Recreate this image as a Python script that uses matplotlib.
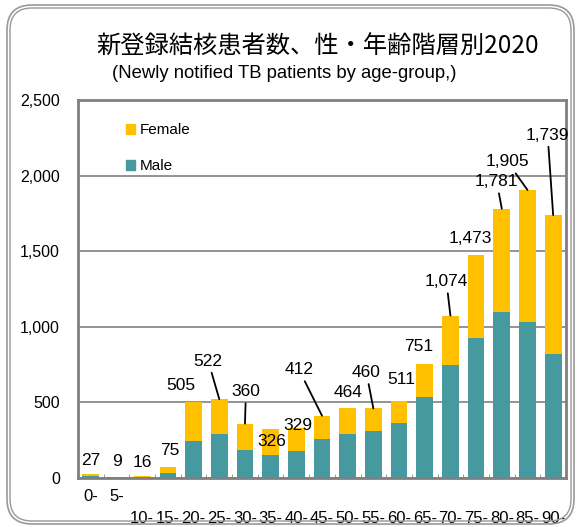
import matplotlib
matplotlib.use('Agg')
import matplotlib.pyplot as plt
from matplotlib.patches import FancyBboxPatch, Patch
import numpy as np

age_groups = ['0-', '5-', '10-', '15-', '20-', '25-', '30-', '35-', '40-', '45-',
              '50-', '55-', '60-', '65-', '70-', '75-', '80-', '85-', '90-']
male = [10, 4, 6, 32, 247, 293, 187, 149, 176, 260, 291, 313, 362, 537, 749, 923, 1099, 1033, 819]
female = [17, 5, 10, 43, 258, 229, 173, 177, 153, 152, 173, 147, 149, 214, 325, 550, 682, 872, 920]

title = '新登録結核患者数、性・年齢階層別2020'
subtitle = '(Newly notified TB patients by age-group,)'

# label offsets from bar top (pixels) and whether a leader line is drawn
label_offsets = [(0, 13), (0, 15), (0, 13), (2, 16), (-13, 16), (-11, 38), (1, 32),
                 (1, -13), (1.5, 3), (-23, 46), (0, 15), (-7, 36), (2.5, 21),
                 (-6, 18), (-4, 34), (-5.5, 17), (-5, 27), (-20, 28), (-5.5, 80)]
leader = [False, False, False, False, False, True, True, False, False, True,
          False, True, False, False, True, False, True, True, True]

plt.rcParams['font.family'] = ['Liberation Sans', 'Noto Sans CJK JP', 'DejaVu Sans']

teal = '#4799A0'
yellow = '#FFC000'

fig = plt.figure(figsize=(5.77, 5.27), dpi=100)
ax = fig.add_axes([78 / 577, 49 / 527, 488 / 577, 378 / 527])

x = np.arange(len(age_groups))
total = np.array(male) + np.array(female)
ax.bar(x, male, width=0.65, color=teal, zorder=3)
ax.bar(x, female, width=0.65, bottom=male, color=yellow, zorder=3)

ax.set_xlim(-0.5, len(age_groups) - 0.5)
ax.set_ylim(0, 2500)
ax.set_yticks(range(0, 2501, 500))
ax.set_yticklabels([f'{v:,}' for v in range(0, 2501, 500)], fontsize=11.5)
ax.yaxis.grid(True, color='#8a8a8a', lw=1.3, zorder=0)
ax.tick_params(axis='y', length=0, pad=13)

ax.set_xticks(x)
ax.set_xticklabels([g if i < 2 else '\n' + g for i, g in enumerate(age_groups)],
                   fontsize=12, linespacing=1.55)
ax.tick_params(axis='x', length=0, pad=8)
ax.set_xticks(np.arange(0.5, len(age_groups) - 1, 1), minor=True)
ax.tick_params(axis='x', which='minor', direction='in', length=3, color='#888888')

for s in ax.spines.values():
    s.set_color('#808080')
    s.set_linewidth(2)
    s.set_zorder(4)

px = 0.72
for i, t in enumerate(total):
    dx, dy = label_offsets[i]
    kw = {}
    if leader[i]:
        kw['arrowprops'] = dict(arrowstyle='-', color='black', lw=1.3, shrinkA=1, shrinkB=0)
    ax.annotate(f'{t:,}', xy=(i, t), xytext=(dx * px, dy * px), textcoords='offset points',
                ha='center', va='center', fontsize=12.5, zorder=5, **kw)

handles = [Patch(color=yellow, label='Female'), Patch(color=teal, label='Male')]
ax.legend(handles=handles, loc='upper left', bbox_to_anchor=(0.07, 0.975), frameon=False,
          fontsize=11, handlelength=0.6, handleheight=0.6, handletextpad=0.3,
          labelspacing=1.45)

fig.text(318 / 577, 1 - 47 / 527, title, ha='center', va='center', fontsize=17.5,
         family=['Noto Sans CJK JP', 'DejaVu Sans'])
fig.text(284 / 577, 1 - 73 / 527, subtitle, ha='center', va='center', fontsize=13.3)

# rounded double border
fig.patches.append(FancyBboxPatch((0.07, 0.03), 5.67, 5.19,
                                  boxstyle='round,pad=0,rounding_size=0.25',
                                  transform=fig.dpi_scale_trans, fill=False,
                                  edgecolor='#999999', lw=1.2))
fig.patches.append(FancyBboxPatch((0.10, 0.06), 5.61, 5.13,
                                  boxstyle='round,pad=0,rounding_size=0.22',
                                  transform=fig.dpi_scale_trans, fill=False,
                                  edgecolor='#999999', lw=1.0))

fig.savefig('out.png', dpi=100)
